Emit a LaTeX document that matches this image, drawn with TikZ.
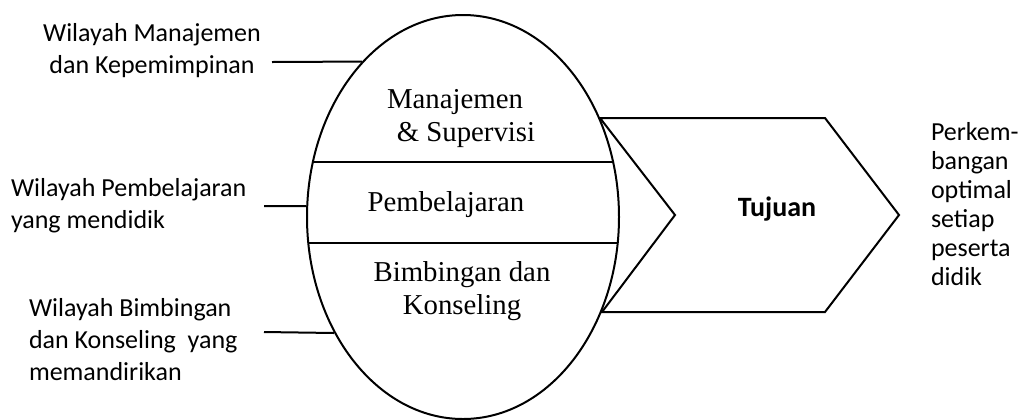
\documentclass[tikz,border=0pt]{standalone}
\usepackage{fontspec}
\setmainfont{Carlito}
\newfontfamily\timesfont{Liberation Serif}
\usetikzlibrary{shapes.geometric,%
                positioning}

\begin{document}
\begin{tikzpicture}[x=0.5pt,y=-0.5pt,line width=1pt]
\tikzstyle{wilayah}=[inner sep=0,font=\fontsize{13pt}{16pt}\selectfont]
\tikzstyle{hasil}=[inner sep=0,align=left,font=\fontsize{13pt}{14.5pt}\selectfont]
\tikzstyle{isi}=[inner sep=0,align=center,font=\timesfont\fontsize{14.4pt}{16.5pt}\selectfont]
\tikzstyle{edge} = [draw,line width=1pt,-]

\useasboundingbox (0,0) rectangle (1029,419);

% ellips wilayah
\draw (463,217) node[ellipse,draw,inner sep=0,minimum width=156pt,minimum height=202pt] (ell) {};
\draw (313,162) -- (613,162);
\draw (308.3,243) -- (617.7,243);

\draw (455,118.5) node[isi] (mnj) {Manajemen\\\hspace*{11pt}\& Supervisi};
\draw (446,205) node[isi] (pbl) {Pembelajaran};
\draw (462,291) node[isi] (bk) {Bimbingan dan\\Konseling};

% tujuan
\draw (600,118) -- (825,118) -- (899,215) -- (825,312) -- (602,312) -- (675,215) -- cycle;
\draw (777,209) node[inner sep=0,font=\bfseries\fontsize{14pt}{16pt}\selectfont] (tuj) {Tujuan};
\draw (930,204) node[hasil,anchor=west] (hsl) {Perkem-\\bangan\\optimal\\setiap\\peserta\\didik};

% keterangan kiri
\draw (152,51) node[wilayah,align=center] (wm) {Wilayah Manajemen\\dan Kepemimpinan};
\draw (10,206) node[wilayah,align=left,anchor=west] (wp) {Wilayah Pembelajaran\\yang mendidik};
\draw (28,340) node[wilayah,align=left,anchor=west] (wb) {Wilayah Bimbingan\\dan Konseling\ \ yang\\memandirikan};

\coordinate (a1) at (272,62);
\coordinate (a2) at (264,206);
\coordinate (a3) at (264,332);
\path[edge] (a1) -- (ell.123.3);
\path[edge] (a2) -- (ell.176);
\path[edge] (a3) -- (ell.222);
\end{tikzpicture}
\end{document}
